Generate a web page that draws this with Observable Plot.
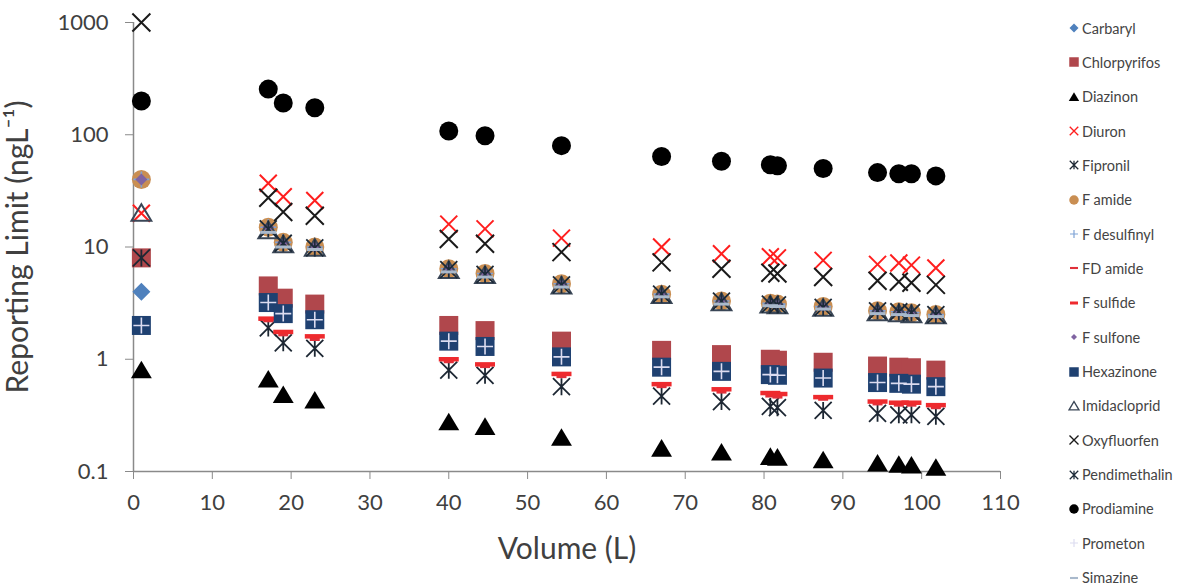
<!DOCTYPE html>
<html>
<head>
<meta charset="utf-8">
<script src="https://cdn.jsdelivr.net/npm/d3@7"></script>
<script src="https://cdn.jsdelivr.net/npm/@observablehq/plot@0.6"></script>
<style>
  html, body { margin: 0; padding: 0; background: #fff; }
  #wrap { position: relative; width: 1187px; height: 586px; font-family: Lato, "Open Sans", sans-serif; }
  #legend { position: absolute; left: 1068px; top: 0; width: 119px; height: 586px; overflow: hidden; }
  .item { position: absolute; left: 0; height: 18px; display: flex; align-items: center; white-space: nowrap;
          font-size: 14.5px; color: #444; }
  .item svg { margin-right: 2px; flex: none; }
</style>
</head>
<body>
<div id="wrap"><div id="legend"></div></div>
<script>
// ---------- data ----------
const volume = [1, 17.1, 19, 23, 40, 44.6, 54.3, 67, 74.6, 80.8, 81.7, 87.5, 94.4, 97.1, 98.7, 101.8];

const carbaryl      = [4, null, null, null, null, null, null, null, null, null, null, null, null, null, null, null];
const chlorpyrifos  = [8, 4.5, 3.5, 3.1, 2.0, 1.8, 1.45, 1.2, 1.1, 1.0, 0.98, 0.94, 0.87, 0.85, 0.84, 0.8];
const diazinon      = [0.8, 0.66, 0.48, 0.43, 0.275, 0.25, 0.2, 0.16, 0.148, 0.135, 0.133, 0.126, 0.118, 0.115, 0.113, 0.108];
const diuron        = [20, 37, 28, 26, 16, 14.5, 12, 10, 8.7, 8.2, 8.0, 7.6, 7.0, 7.2, 6.9, 6.5];
const fipronil      = [8, 1.9, 1.4, 1.25, 0.8, 0.72, 0.57, 0.47, 0.42, 0.38, 0.37, 0.35, 0.33, 0.32, 0.32, 0.31];
const fAmide        = [40, 15, 11, 10, 6.4, 5.8, 4.7, 3.8, 3.3, 3.15, 3.1, 2.95, 2.7, 2.65, 2.6, 2.5];
const fDesulfinyl   = [40, 15, 11, 10, 6.4, 5.8, 4.7, 3.8, 3.3, 3.15, 3.1, 2.95, 2.7, 2.65, 2.6, 2.5];
const fdAmide       = [null, 2.2, 1.65, 1.5, 0.95, 0.86, 0.7, 0.57, 0.51, 0.47, 0.46, 0.44, 0.4, 0.39, 0.39, 0.37];
const fSulfide      = [null, 2.3, 1.75, 1.6, 1.0, 0.9, 0.74, 0.6, 0.54, 0.5, 0.49, 0.46, 0.42, 0.41, 0.41, 0.39];
const fSulfone      = [40, 15, 11, 10, 6.4, 5.8, 4.7, 3.8, 3.3, 3.15, 3.1, 2.95, 2.7, 2.65, 2.6, 2.5];
const hexazinone    = [2, 3.2, 2.55, 2.25, 1.45, 1.3, 1.05, 0.85, 0.78, 0.73, 0.72, 0.68, 0.62, 0.61, 0.6, 0.57];
const imidacloprid  = [20, 14, 10.5, 9.8, 6.2, 5.6, 4.5, 3.7, 3.2, 3.05, 3.0, 2.85, 2.6, 2.55, 2.5, 2.45];
const oxyfluorfen   = [1000, 27.5, 20.5, 19, 11.8, 10.7, 9.0, 7.3, 6.4, 5.9, 5.8, 5.4, 5.0, 4.9, 4.8, 4.6];
const pendimethalin = [null, 14.5, 10.8, 9.8, 6.3, 5.7, 4.6, 3.8, 3.3, 3.1, 3.05, 2.9, 2.7, 2.65, 2.6, 2.5];
const prodiamine    = [200, 255, 192, 174, 108, 98, 80, 64, 58, 54, 53, 50, 46, 45, 45, 43];
const prometon      = [2, 3.2, 2.55, 2.25, 1.45, 1.3, 1.05, 0.85, 0.78, 0.73, 0.72, 0.68, 0.62, 0.61, 0.6, 0.57];
const simazine      = [null, 13.5, 10, 9.5, 6.0, 5.4, 4.4, 3.6, 3.1, 3.0, 2.95, 2.8, 2.55, 2.5, 2.45, 2.4];

const xTicks = [0, 10, 20, 30, 40, 50, 60, 70, 80, 90, 100, 110];
const yTicks = [0.1, 1, 10, 100, 1000];
const xTitle = "Volume (L)";
const yTitle = "Reporting Limit (ngL\u207B\u00B9)";

// ---------- marker shapes ----------
const R = (size) => Math.sqrt(size / Math.PI);
const sym = {
  square:  {draw(c, s) { const r = R(s); c.rect(-r, -r, 2 * r, 2 * r); }},
  diamond: {draw(c, s) { const r = R(s); c.moveTo(0, -r); c.lineTo(r, 0); c.lineTo(0, r); c.lineTo(-r, 0); c.closePath(); }},
  triangle:{draw(c, s) { const r = R(s); c.moveTo(0, -r); c.lineTo(r * 1.1, r * 0.85); c.lineTo(-r * 1.1, r * 0.85); c.closePath(); }},
  circle:  {draw(c, s) { const r = R(s); c.moveTo(r, 0); c.arc(0, 0, r, 0, 2 * Math.PI); }},
  times:   {draw(c, s) { const r = R(s); c.moveTo(-r, -r); c.lineTo(r, r); c.moveTo(-r, r); c.lineTo(r, -r); }},
  star:    {draw(c, s) { const r = R(s); c.moveTo(-r, -r); c.lineTo(r, r); c.moveTo(-r, r); c.lineTo(r, -r); c.moveTo(0, -r); c.lineTo(0, r); }},
  plus:    {draw(c, s) { const r = R(s); c.moveTo(-r, 0); c.lineTo(r, 0); c.moveTo(0, -r); c.lineTo(0, r); }},
  dash:    {draw(c, s) { const r = R(s); c.moveTo(-r, 0); c.lineTo(r, 0); }}
};

const series = [
  {name: "Carbaryl",      values: carbaryl,      symbol: "diamond",  r: 9,   fill: "#4F81BD"},
  {name: "Chlorpyrifos",  values: chlorpyrifos,  symbol: "square",   r: 9.5, fill: "#B0474C"},
  {name: "Diazinon",      values: diazinon,      symbol: "triangle", r: 9.5, fill: "#000000"},
  {name: "Diuron",        values: diuron,        symbol: "times",    r: 8.5, stroke: "#FF1E1E", sw: 2},
  {name: "Fipronil",      values: fipronil,      symbol: "star",     r: 8.5, stroke: "#1D2733", sw: 1.8},
  {name: "F amide",       values: fAmide,        symbol: "circle",   r: 9.5, fill: "#C98E52"},
  {name: "F desulfinyl",  values: fDesulfinyl,   symbol: "plus",     r: 8,   stroke: "#7FA3D6", sw: 1.6},
  {name: "FD amide",      values: fdAmide,       symbol: "dash",     r: 5,   stroke: "#E0303A", sw: 3},
  {name: "F sulfide",     values: fSulfide,      symbol: "dash",     r: 10,  stroke: "#EE2A2E", sw: 4.5},
  {name: "F sulfone",     values: fSulfone,      symbol: "diamond",  r: 6,   fill: "#8064A2"},
  {name: "Hexazinone",    values: hexazinone,    symbol: "square",   r: 9.5, fill: "#1F4171"},
  {name: "Imidacloprid",  values: imidacloprid,  symbol: "triangle", r: 9,   stroke: "#3A4656", sw: 2},
  {name: "Oxyfluorfen",   values: oxyfluorfen,   symbol: "times",    r: 9,   stroke: "#1A1A1A", sw: 2},
  {name: "Pendimethalin", values: pendimethalin, symbol: "star",     r: 8.5, stroke: "#1C2A38", sw: 1.8},
  {name: "Prodiamine",    values: prodiamine,    symbol: "circle",   r: 9.5, fill: "#000000"},
  {name: "Prometon",      values: prometon,      symbol: "plus",     r: 8,   stroke: "#DCDCF0", sw: 1.6},
  {name: "Simazine",      values: simazine,      symbol: "dash",     r: 8,   stroke: "#A9B9CC", sw: 3}
];

const dotMarks = series.map(s => {
  const rows = volume.map((v, i) => ({v, y: s.values[i]})).filter(d => d.y != null);
  return Plot.dot(rows, {
    x: "v", y: "y", symbol: sym[s.symbol], r: s.r,
    fill: s.fill || "none", stroke: s.stroke || "none", strokeWidth: s.sw || 0
  });
});

const chart = Plot.plot({
  width: 1187, height: 586,
  marginLeft: 133, marginRight: 187, marginTop: 22, marginBottom: 115,
  style: {fontFamily: "Lato, 'Open Sans', sans-serif", background: "white", overflow: "visible"},
  x: {domain: [0, 110]},
  y: {type: "log", domain: [0.1, 1000]},
  marks: [
    Plot.ruleX([0], {stroke: "#8A8A8A", strokeWidth: 1.5}),
    Plot.ruleY([0.1], {stroke: "#8A8A8A", strokeWidth: 1.5}),
    Plot.axisX({ticks: xTicks, tickSize: 8, tickPadding: 15, fontSize: 22, stroke: "#8A8A8A", fill: "#404040", label: null, tickFormat: d => String(d)}),
    Plot.axisY({ticks: yTicks, tickSize: 8, tickPadding: 17, fontSize: 22, stroke: "#8A8A8A", fill: "#404040", label: null, tickFormat: d => String(d)}),
    Plot.text([xTitle], {text: d => d, frameAnchor: "bottom", lineAnchor: "middle", dy: 78, fontSize: 30, fill: "#404040"}),
    Plot.text([yTitle], {text: d => d, frameAnchor: "left", textAnchor: "middle", lineAnchor: "middle", rotate: -90, dx: -115, fontSize: 30, fill: "#404040"}),
    ...dotMarks
  ]
});
document.getElementById("wrap").prepend(chart);

// ---------- legend ----------
const legend = document.getElementById("legend");
series.forEach((s, i) => {
  const item = document.createElement("div");
  item.className = "item";
  item.style.top = (28 + 34.35 * i - 9) + "px";
  const p = d3.path();
  const lr = s.symbol === "dash" ? Math.min(s.r, 4) : Math.min(s.r * 0.5, 4.8);
  sym[s.symbol].draw(p, Math.PI * lr * lr);
  const svg = d3.create("svg").attr("width", 12).attr("height", 12).attr("viewBox", "-6 -6 12 12");
  svg.append("path").attr("d", p.toString())
    .attr("fill", s.fill || "none").attr("stroke", s.stroke || "none")
    .attr("stroke-width", s.sw ? Math.max(1.2, Math.min(3, s.sw * 0.7)) : 0);
  item.appendChild(svg.node());
  const t = document.createElement("span");
  t.textContent = s.name;
  item.appendChild(t);
  legend.appendChild(item);
});
</script>
</body>
</html>
